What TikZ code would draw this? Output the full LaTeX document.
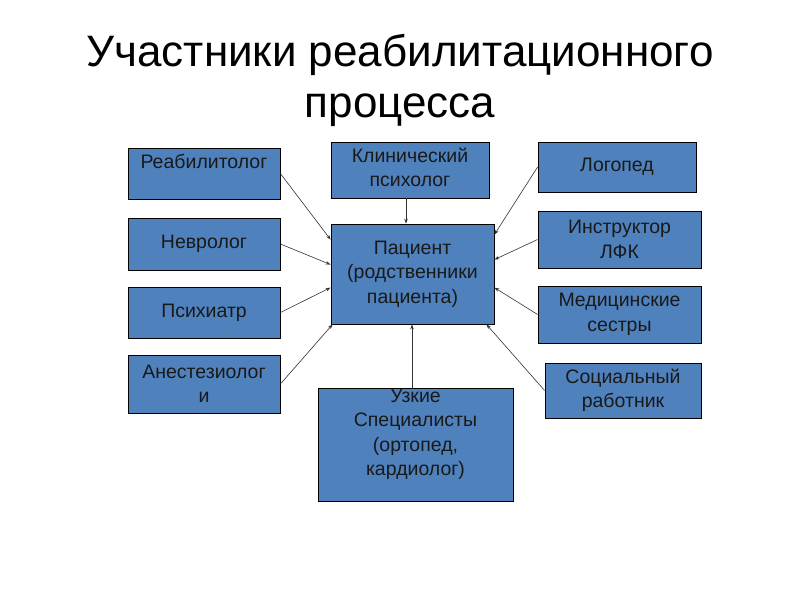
\documentclass[tikz,border=0pt]{standalone}
\usepackage{fontspec}
\setmainfont{Liberation Sans}
\usetikzlibrary{calc,arrows.meta}
\definecolor{boxblue}{HTML}{4F81BD}
\begin{document}
\begin{tikzpicture}[x=1pt,y=-1pt,
  box/.style={draw=black,line width=0.8pt,fill=boxblue,inner sep=0pt},
  lbl/.style={align=center,font=\fontsize{19.5}{24.5}\selectfont,text=black!90,inner sep=0pt},
  conn/.style={draw=black!80,line width=0.6pt,-{Stealth[length=5pt,width=3.5pt]}}]
\useasboundingbox[fill=white] (0,0) rectangle (800,600);
% title
\node[anchor=base,font=\fontsize{44}{48}\selectfont,inner sep=0pt] (t1) at (400,66) {Участники реабилитационного};
\node[anchor=base,font=\fontsize{44}{48}\selectfont,inner sep=0pt] (t2) at (400,117) {процесса};
% boxes
\newcommand{\bx}[5]{\node[box,minimum width=#4-#2,minimum height=#5-#3] (#1) at ({(#2+#4)/2},{(#3+#5)/2}) {};}
\bx{reab}{128}{148}{280}{199}
\bx{klin}{331}{142}{489}{198}
\bx{logo}{538}{142}{696}{192}
\bx{nevr}{128}{218}{280}{270}
\bx{pat}{331}{224}{494}{324}
\bx{instr}{538}{211}{701}{268}
\bx{psych}{128}{287}{280}{338}
\bx{med}{538}{286}{701}{343}
\bx{anest}{128}{355}{280}{413}
\bx{uzk}{318}{388}{513}{501}
\bx{soc}{545}{363}{701}{418}
% texts
\node[lbl,anchor=north] (reabT) at ($(reab.north)+(0,6)$) {Реабилитолог};
\node[lbl,anchor=north] (klinT) at ($(klin.north)+(0,6)$) {Клинический\\психолог};
\node[lbl] (logoT) at (logo) {Логопед};
\node[lbl] (nevrT) at (nevr) {Невролог};
\node[lbl] (patT) at (pat) {Пациент\\(родственники\\пациента)};
\node[lbl] (instrT) at (instr) {Инструктор\\ЛФК};
\node[lbl] (psychT) at (psych) {Психиатр};
\node[lbl] (medT) at (med) {Медицинские\\сестры};
\node[lbl] (anestT) at (anest) {Анестезиолог\\и};
\node[lbl,anchor=north] (uzkT) at ($(uzk.north)+(0,1)$) {Узкие\\Специалисты\\(ортопед,\\кардиолог)};
\node[lbl] (socT) at (soc) {Социальный\\работник};
% connectors
\draw[conn] (reab.east) -- ($(pat.north west)+(0,16)$);
\draw[conn] (nevr.east) -- ($(pat.north west)+(0,41)$);
\draw[conn] ($(klin.south)+(-4,0)$) -- ($(klin.south |- pat.north)+(-4,0)$);
\draw[conn] (logo.west) -- ($(pat.north east)+(0,11)$);
\draw[conn] (instr.west) -- ($(pat.north east)+(0,36)$);
\draw[conn] (psych.east) -- ($(pat.north west)+(0,64)$);
\draw[conn] (anest.east) -- ($(pat.south west)+(2,0)$);
\draw[conn] ($(uzk.north)+(-3.5,0)$) -- ($(uzk.north |- pat.south)+(-3.5,0)$);
\draw[conn] (med.west) -- ($(pat.north east)+(0,64)$);
\draw[conn] (soc.west) -- ($(pat.south east)+(-8,0)$);
\end{tikzpicture}
\end{document}
